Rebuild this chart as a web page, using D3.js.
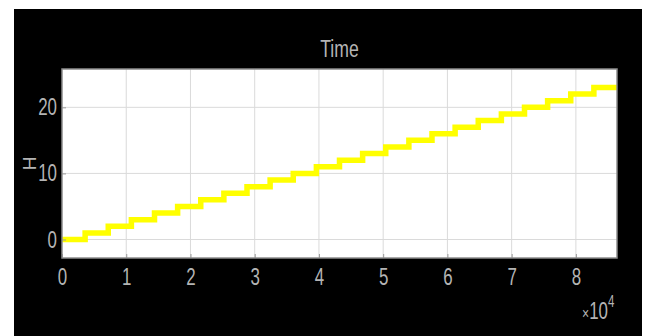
<!DOCTYPE html>
<html>
<head>
<meta charset="utf-8">
<script src="https://cdn.jsdelivr.net/npm/d3@7"></script>
<style>
html, body { margin: 0; padding: 0; background: #ffffff; }
svg { display: block; }
text { font-family: "Liberation Sans", Arial, sans-serif; fill: #b4b4b4; }
</style>
</head>
<body>
<svg id="chart" width="647" height="336"></svg>
<script>
// ---- data ----
const stepTimes = [0, 3600, 7200, 10800, 14400, 18000, 21600, 25200, 28800, 32400, 36000, 39600,
                   43200, 46800, 50400, 54000, 57600, 61200, 64800, 68400, 72000, 75600, 79200, 82800, 86400];
const hValues   = [0, 1, 2, 3, 4, 5, 6, 7, 8, 9, 10, 11,
                   12, 13, 14, 15, 16, 17, 18, 19, 20, 21, 22, 23, 23];
const xTicks = [0, 10000, 20000, 30000, 40000, 50000, 60000, 70000, 80000];
const xTickLabels = ["0", "1", "2", "3", "4", "5", "6", "7", "8"];
const yTicks = [0, 10, 20];
const yTickLabels = ["0", "10", "20"];
const titleText = "Time";
const yLabelText = "H";

// ---- layout ----
const svg = d3.select("#chart");
const W = 647, H = 336;
const plot = { left: 62, right: 617, top: 69, bottom: 258 };
const SX = 0.72; // horizontal compression of the text

// black background frame
svg.append("rect").attr("x", 14).attr("y", 9).attr("width", 628).attr("height", H - 9).attr("fill", "#000");

const x = d3.scaleLinear().domain([0, 86400]).range([plot.left, plot.right]);
const y = d3.scaleLinear().domain([-2.8, 25.8]).range([plot.bottom, plot.top]);

// plot background
svg.append("rect")
  .attr("x", plot.left).attr("y", plot.top)
  .attr("width", plot.right - plot.left).attr("height", plot.bottom - plot.top)
  .attr("fill", "#ffffff");

// grid
const grid = svg.append("g");
grid.selectAll("line.gx").data(xTicks.slice(1)).join("line")
  .attr("x1", d => x(d)).attr("x2", d => x(d))
  .attr("y1", plot.top).attr("y2", plot.bottom)
  .attr("stroke", "#dadada").attr("stroke-width", 1);
grid.selectAll("line.gy").data(yTicks).join("line")
  .attr("x1", plot.left).attr("x2", plot.right)
  .attr("y1", d => y(d)).attr("y2", d => y(d))
  .attr("stroke", "#dadada").attr("stroke-width", 1);

// staircase line
const pts = stepTimes.map((t, i) => [t, hValues[i]]);
const line = d3.line().x(d => x(d[0])).y(d => y(d[1])).curve(d3.curveStepAfter);
svg.append("path")
  .attr("d", line(pts))
  .attr("fill", "none")
  .attr("stroke", "#ffff00")
  .attr("stroke-width", 5.5)
  .attr("stroke-linejoin", "miter");

// axes using d3 axis
const xAxis = d3.axisBottom(x).tickValues(xTicks).tickFormat((d, i) => xTickLabels[i]).tickSizeInner(-4).tickSizeOuter(0).tickPadding(10);
const yAxis = d3.axisLeft(y).tickValues(yTicks).tickFormat((d, i) => yTickLabels[i]).tickSizeInner(-4).tickSizeOuter(0).tickPadding(5);

const gx = svg.append("g").attr("transform", `translate(0,${plot.bottom})`).call(xAxis);
const gy = svg.append("g").attr("transform", `translate(${plot.left},0)`).call(yAxis);
[gx, gy].forEach(g => {
  g.select(".domain").remove();
  g.selectAll(".tick line").attr("stroke", "#9a9a9a");
  g.selectAll(".tick text").attr("font-size", 23.5).attr("fill", "#b4b4b4")
    .style("font-family", "'Liberation Sans', Arial, sans-serif");
});
gx.selectAll(".tick text").attr("dy", "0.71em");
// compress text horizontally
[gx, gy].forEach(g => {
  g.selectAll(".tick text").each(function () {
    const t = d3.select(this);
    const tx = +t.attr("x") || 0, ty = +t.attr("y") || 0;
    t.attr("x", 0).attr("y", 0).attr("transform", `translate(${tx},${ty}) scale(${SX},1)`);
  });
});

// plot border
svg.append("rect")
  .attr("x", plot.left).attr("y", plot.top)
  .attr("width", plot.right - plot.left).attr("height", plot.bottom - plot.top)
  .attr("fill", "none").attr("stroke", "#8c8c8c").attr("stroke-width", 1.5);

// title
svg.append("text")
  .attr("transform", `translate(${(plot.left + plot.right) / 2},57) scale(${SX},1)`)
  .attr("text-anchor", "middle").attr("font-size", 24.5)
  .text(titleText);

// y label
svg.append("text")
  .attr("transform", `translate(36,${(plot.top + plot.bottom) / 2}) rotate(-90)`)
  .attr("text-anchor", "middle").attr("font-size", 19)
  .text(yLabelText);

// exponent label
const ex = svg.append("text").attr("transform", `translate(582,319) scale(${SX},1)`).attr("font-size", 23.5);
ex.append("tspan").attr("font-size", 17).text("×");
ex.append("tspan").text("10");
ex.append("tspan").attr("dy", -12).attr("font-size", 16).text("4");
</script>
</body>
</html>
